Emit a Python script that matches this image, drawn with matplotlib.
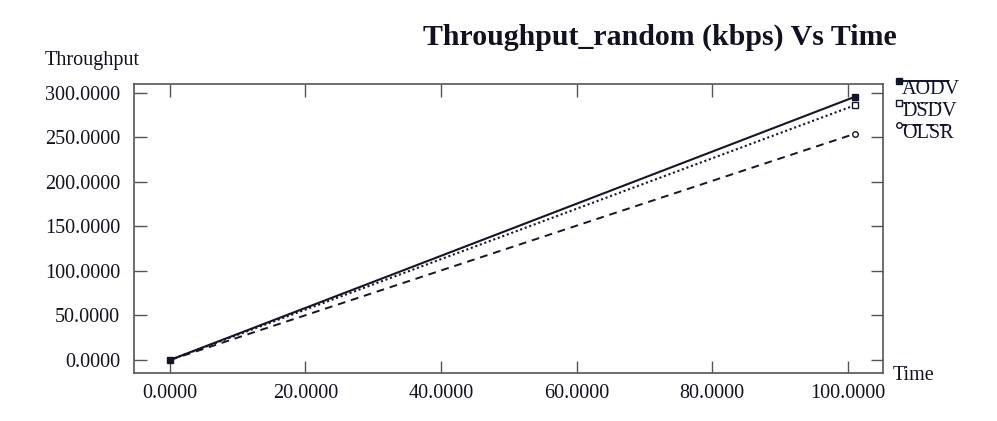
import matplotlib
matplotlib.use("Agg")
import matplotlib.pyplot as plt
from matplotlib.lines import Line2D

plt.rcParams['font.family'] = ['Liberation Serif', 'DejaVu Serif']

time = [0.0, 101.0]
aodv = [0.0, 295.5]
dsdv = [0.0, 286.0]
olsr = [0.0, 254.0]
series_names = ["AODV", "DSDV", "OLSR"]
xticks = [0, 20, 40, 60, 80, 100]
yticks = [0, 50, 100, 150, 200, 250, 300]

ink = '#15152a'

fig = plt.figure(figsize=(9.97, 4.21), dpi=100)
fig.patch.set_facecolor('white')
ax = fig.add_axes([0.1344, 0.114, 0.7513, 0.6865])

ax.plot(time, aodv, color=ink, lw=1.5, ls='-')
ax.plot(time, dsdv, color=ink, lw=1.5, ls=(0, (1, 1.3)))
ax.plot(time, olsr, color=ink, lw=1.4, ls=(0, (4, 3)))
ax.plot([time[0]], [aodv[0]], 's', color=ink, ms=4)
ax.plot([time[-1]], [aodv[-1]], 's', color=ink, ms=4.5)
ax.plot([time[-1]], [dsdv[-1]], 's', mfc='white', mec=ink, ms=4.5, mew=1)
ax.plot([time[-1]], [olsr[-1]], 'o', mfc='white', mec=ink, ms=4, mew=1)

ax.set_xlim(-5.3, 105.2)
ax.set_ylim(-14.6, 310)
ax.set_xticks(xticks)
ax.set_yticks(yticks)
ax.set_xticklabels([f"{v:.4f}" for v in xticks])
ax.set_yticklabels([f"{v:.4f}" for v in yticks])
ax.tick_params(direction='in', length=9, width=1, colors='#555555',
               labelcolor='#111122', labelsize=14.5, top=True, right=True, pad=8)
ax.tick_params(axis='y', pad=10)
for s in ax.spines.values():
    s.set_color('#555555')
    s.set_linewidth(1.2)

fig.text(660/997, 1 - 37/421, "Throughput_random (kbps) Vs Time", ha='center', va='center',
         fontsize=21.5, fontweight='bold', color='#111122')
fig.text(45/997, 1 - 60/421, "Throughput", ha='left', va='center', fontsize=14.5, color='#111122')
fig.text(893/997, 1 - 376/421, "Time", ha='left', va='center', fontsize=14.5, color='#111122')

# legend
styles = [dict(ls='-', marker='s', mfc=ink), dict(ls=(0, (1, 1.3)), marker='s', mfc='white'),
          dict(ls=(0, (4, 3)), marker='o', mfc='white')]
ly = [81, 103, 125]
for name, st, y in zip(series_names, styles, ly):
    yf = 1 - y / 421
    fig.add_artist(Line2D([899/997, 948/997], [yf, yf], transform=fig.transFigure, color=ink,
                          lw=1.4, ls=st['ls']))
    fig.add_artist(Line2D([899/997], [yf], transform=fig.transFigure, color=ink, marker=st['marker'],
                          mfc=st['mfc'], mec=ink, ms=4, ls='none'))
    fig.text(902/997, 1 - (y + 9) / 421, name, ha='left', va='center', fontsize=14.5, color='#111133')

fig.savefig("out.png", dpi=100)
